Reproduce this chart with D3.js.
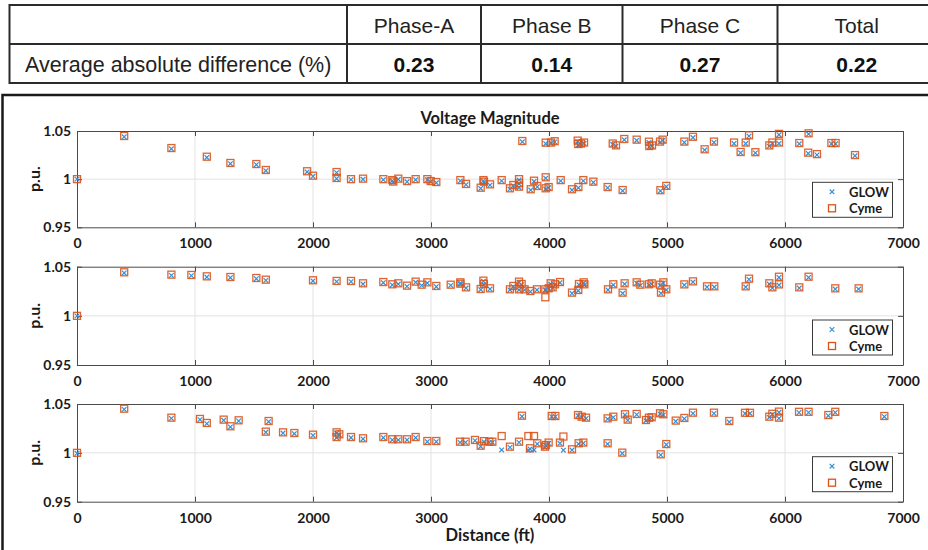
<!DOCTYPE html>
<html><head><meta charset="utf-8">
<script src="https://cdn.jsdelivr.net/npm/d3@7/dist/d3.min.js"></script>
<style>body{margin:0;background:#fff;}svg{display:block;}</style>
</head><body><svg id="c" width="928" height="550"></svg>
<script>
// ---- table data ----
const tableHeaders = ["", "Phase-A", "Phase B", "Phase C", "Total"];
const tableRowLabel = "Average absolute difference (%)";
const tableValues = ["0.23", "0.14", "0.27", "0.22"];

// ---- chart data ----
const chartTitle = "Voltage Magnitude";
const xTicks = [0, 1000, 2000, 3000, 4000, 5000, 6000, 7000];
const yTicks = [0.95, 1, 1.05];
const seriesNames = ["GLOW", "Cyme"];

const distA = [0,400,800,1100,1300,1520,1600,1950,2000,2200,2200,2322,2424,2596,2672,2680,2723,2797,2870,2969,2997,3045,3249,3297,3421,3444,3449,3500,3599,3669,3698,3746,3746,3746,3845,3873,3901,3972,3972,3997,4099,4195,4249,4291,4376,4497,4624,4944,4994,
  3774,3972,4017,4048,4243,4248,4271,4297,4540,4568,4638,4743,4847,4850,4873,4941,4963,5147,5220,5319,5398,5568,5624,5667,5695,5749,5867,5893,5949,5949,6121,6200,6197,6271,6393,6429,6593];
const cymeA = [1.000,1.0448,1.0323,1.0233,1.0168,1.0157,1.0095,1.0082,1.0036,1.0074,1.0012,1.000,1.0005,1.000,0.999,0.9975,1.0005,0.998,1.000,1.000,0.998,0.997,0.999,0.995,0.9911,0.999,0.9974,0.9946,0.999,0.9905,0.9939,1.000,0.9957,0.9922,0.9895,0.9984,0.9929,1.0019,0.9905,0.9918,0.999,0.9895,0.9918,0.999,0.9974,0.9918,0.9887,0.9885,0.993,
  1.0396,1.0379,1.038,1.0394,1.040,1.0365,1.037,1.038,1.037,1.0351,1.0417,1.041,1.0389,1.0344,1.035,1.039,1.041,1.039,1.044,1.031,1.039,1.038,1.0282,1.038,1.0455,1.028,1.035,1.038,1.038,1.047,1.0375,1.0476,1.0275,1.026,1.0375,1.0375,1.025];
const glowA = [1.000,1.0440,1.0315,1.0225,1.016,1.015,1.0088,1.0075,1.003,1.0068,1.0005,0.9995,0.9998,0.9993,0.9982,0.997,0.9998,0.9972,0.9993,0.9993,0.9972,0.9962,0.9982,0.9943,0.9903,0.9982,0.9966,0.9938,0.9982,0.9897,0.9931,0.9992,0.995,0.9914,0.9887,0.9976,0.9921,1.001,0.9897,0.991,0.9982,0.9887,0.991,0.9982,0.9966,0.991,0.9879,0.9877,0.9922,
  1.0388,1.0368,1.0372,1.0386,1.0392,1.0355,1.0362,1.0372,1.0362,1.0342,1.0409,1.0402,1.038,1.0335,1.0342,1.0382,1.0402,1.0381,1.0432,1.0302,1.0381,1.037,1.0274,1.037,1.0447,1.0272,1.0342,1.037,1.037,1.0462,1.0367,1.0468,1.0267,1.0252,1.0367,1.0367,1.0242];

const distB = [0,400,800,969,1100,1300,1520,1600,2000,2200,2322,2424,2596,2672,2723,2797,2870,2921,2969,3045,3167,3249,3249,3297,3421,3444,3448,3500,3669,3698,3746,3746,3768,3793,3842,3898,3969,3969,3997,4014,4031,4051,4093,4195,4248,4254,4294,4300,4500,4545,4624,4641,4743,4774,4847,4870,4941,4949,4969,4994,5147,5220,5339,5401,5667,5695,5867,5893,5949,5949,6121,6200,6426,6624];
const cymeB = [1.000,1.0443,1.0419,1.0416,1.0402,1.0395,1.0385,1.0368,1.0362,1.0355,1.0355,1.0331,1.0344,1.0321,1.0331,1.0307,1.0348,1.0317,1.0341,1.0304,1.0317,1.0327,1.0341,1.029,1.0273,1.0358,1.0324,1.028,1.027,1.0304,1.0348,1.027,1.0324,1.027,1.0253,1.027,1.0189,1.027,1.028,1.0331,1.029,1.0321,1.0344,1.0236,1.0263,1.0324,1.0341,1.0321,1.027,1.0321,1.0236,1.0331,1.0341,1.0317,1.0321,1.0331,1.0317,1.0236,1.0341,1.027,1.032,1.0351,1.030,1.030,1.030,1.0378,1.0331,1.029,1.032,1.0398,1.029,1.0398,1.028,1.028];
const glowB = [1.000,1.0436,1.0412,1.0409,1.0395,1.0388,1.0378,1.0361,1.0355,1.0348,1.0348,1.0324,1.0337,1.0314,1.0324,1.030,1.0341,1.031,1.0334,1.0297,1.031,1.032,1.0334,1.0283,1.0266,1.0351,1.0317,1.0273,1.0263,1.0297,1.0341,1.0263,1.0317,1.0263,1.0246,1.0263,1.0262,1.0263,1.0273,1.0324,1.0283,1.0314,1.0337,1.0229,1.0256,1.0317,1.0334,1.0314,1.0263,1.0314,1.0229,1.0324,1.0334,1.031,1.0314,1.0324,1.031,1.0229,1.0334,1.0263,1.0313,1.0344,1.0293,1.0293,1.0293,1.0371,1.0324,1.0283,1.0313,1.0391,1.0283,1.0391,1.0273,1.0273];

const distC = [0,400,800,1042,1100,1243,1300,1370,1600,1624,1746,1842,2000,2200,2200,2223,2322,2424,2596,2672,2723,2797,2870,2969,3045,3246,3293,3373,3421,3449,3494,3520,3599,3669,3746,3771,3825,3839,3873,3901,3966,3972,3997,4023,4054,4093,4122,4195,4246,4251,4277,4291,4314,4497,4497,4545,4621,4644,4667,4743,4822,4847,4870,4941,4947,4969,4994,5074,5147,5220,5398,5528,5661,5703,5867,5893,5949,5949,6119,6200,6367,6426,6842];
const cymeC = [1.000,1.0452,1.036,1.0347,1.0306,1.034,1.0272,1.0333,1.0217,1.0326,1.021,1.0203,1.0186,1.021,1.0162,1.019,1.0162,1.0149,1.0162,1.0139,1.0139,1.0139,1.0162,1.0121,1.0121,1.0114,1.0114,1.0132,1.0073,1.012,1.0114,1.0114,1.0172,1.0063,1.0114,1.038,1.0172,1.0047,1.0172,1.0098,1.0063,1.008,1.0105,1.0377,1.0377,1.0105,1.0167,1.0036,1.0387,1.0098,1.037,1.0105,1.036,1.0353,1.0098,1.037,1.0002,1.0395,1.034,1.0398,1.0336,1.036,1.0364,1.0405,0.9985,1.0395,1.009,1.033,1.0357,1.0411,1.0411,1.0326,1.041,1.041,1.037,1.040,1.0422,1.036,1.042,1.042,1.0387,1.042,1.0377];
const glowC = [0.9995,1.0445,1.0353,1.034,1.0299,1.0333,1.0265,1.0326,1.021,1.0319,1.0203,1.0196,1.0179,1.0203,1.0155,1.0183,1.0155,1.0142,1.0155,1.0132,1.0132,1.0132,1.0155,1.0114,1.0114,1.0107,1.0107,1.0125,1.0066,1.0113,1.0107,1.0107,1.003,1.0056,1.0107,1.0373,1.0027,1.004,1.003,1.0091,1.0056,1.0073,1.0098,1.037,1.037,1.0098,1.0027,1.0029,1.038,1.0091,1.0363,1.0098,1.0353,1.0346,1.0091,1.0363,0.9995,1.0388,1.0333,1.0391,1.0329,1.0353,1.0357,1.0398,0.9978,1.0388,1.0083,1.0323,1.035,1.0404,1.0404,1.0315,1.0403,1.0403,1.0363,1.0393,1.0415,1.0353,1.0413,1.0413,1.038,1.0413,1.037];

const panels = [
  {dist: distA, glow: glowA, cyme: cymeA},
  {dist: distB, glow: glowB, cyme: cymeB},
  {dist: distC, glow: glowC, cyme: cymeC}
];

// ---- drawing ----
const svg = d3.select("#c");
svg.append("rect").attr("width",928).attr("height",550).attr("fill","#fff");

// table
const colX = [9.5, 347, 481, 622.5, 777.5, 936];
const rowY = [5, 44, 83];
const tbl = svg.append("g");
tbl.append("rect").attr("x",colX[0]).attr("y",rowY[0]).attr("width",colX[5]-colX[0]).attr("height",rowY[2]-rowY[0])
  .attr("fill","none").attr("stroke","#2b2b2b").attr("stroke-width",2);
tbl.append("line").attr("x1",colX[0]).attr("x2",colX[5]).attr("y1",rowY[1]).attr("y2",rowY[1]).attr("stroke","#2b2b2b").attr("stroke-width",2);
colX.slice(1,5).forEach(x => tbl.append("line").attr("x1",x).attr("x2",x).attr("y1",rowY[0]).attr("y2",rowY[2]).attr("stroke","#2b2b2b").attr("stroke-width",2));
tableHeaders.forEach((h,i) => {
  if (!h) return;
  tbl.append("text").attr("x",(colX[i]+colX[i+1])/2).attr("y",(rowY[0]+rowY[1])/2+1)
    .attr("text-anchor","middle").attr("dominant-baseline","central")
    .style("font-family","'Liberation Sans', Arial, sans-serif").style("font-size","21px").attr("fill","#222").text(h);
});
tbl.append("text").attr("x",25).attr("y",(rowY[1]+rowY[2])/2+1).attr("dominant-baseline","central")
  .style("font-family","'Liberation Sans', Arial, sans-serif").style("font-size","21.5px").attr("fill","#222").text(tableRowLabel);
tableValues.forEach((v,i) => {
  tbl.append("text").attr("x",(colX[i+1]+colX[i+2])/2).attr("y",(rowY[1]+rowY[2])/2+1)
    .attr("text-anchor","middle").attr("dominant-baseline","central")
    .style("font-family","'Liberation Sans', Arial, sans-serif").style("font-size","21px").style("font-weight","bold").attr("fill","#111").text(v);
});

// figure frame
svg.append("rect").attr("x",2.5).attr("y",95).attr("width",960).attr("height",480)
  .attr("fill","none").attr("stroke","#1a1a1a").attr("stroke-width",2.5);

const font = "Lato, 'Open Sans', sans-serif";
const x = d3.scaleLinear().domain([0,7000]).range([77,903]);
const tops = [131, 266.7, 404];
const bottoms = [227.3, 365, 501.7];
const boxColor = "#4a4a4a";
const blue = "#3690d6", orange = "#d95319";

panels.forEach((p, i) => {
  const y = d3.scaleLinear().domain([0.95,1.05]).range([bottoms[i], tops[i]]);
  const g = svg.append("g");
  // grid
  g.selectAll(".gx").data(xTicks.slice(1,-1)).join("line")
    .attr("x1",d=>x(d)).attr("x2",d=>x(d)).attr("y1",tops[i]).attr("y2",bottoms[i])
    .attr("stroke","#e3e3e3").attr("stroke-width",1);
  g.append("line").attr("x1",77).attr("x2",903).attr("y1",y(1)).attr("y2",y(1)).attr("stroke","#e3e3e3");

  // axes
  const style = sel => {
    sel.select(".domain").attr("stroke",boxColor);
    sel.selectAll(".tick line").attr("stroke",boxColor);
    sel.selectAll("text").style("font-family",font).style("font-weight","bold").style("font-size","14px").attr("fill","#1a1a1a");
  };
  g.append("g").attr("transform",`translate(0,${bottoms[i]})`)
    .call(d3.axisBottom(x).tickValues(xTicks).tickFormat(d3.format("d")).tickSizeInner(-5).tickSizeOuter(0).tickPadding(11)).call(style);
  g.append("g").attr("transform",`translate(0,${tops[i]})`)
    .call(d3.axisTop(x).tickValues(xTicks).tickFormat("").tickSizeInner(-5).tickSizeOuter(0)).call(style);
  g.append("g").attr("transform",`translate(77,0)`)
    .call(d3.axisLeft(y).tickValues(yTicks).tickFormat(d => d===1 ? "1" : d3.format(".2f")(d)).tickSizeInner(-5).tickSizeOuter(0).tickPadding(6)).call(style);
  g.append("g").attr("transform",`translate(903,0)`)
    .call(d3.axisRight(y).tickValues(yTicks).tickFormat("").tickSizeInner(-5).tickSizeOuter(0)).call(style);

  // y label
  g.append("text").attr("transform",`translate(33,${(tops[i]+bottoms[i])/2}) rotate(-90)`)
    .attr("text-anchor","middle").attr("dominant-baseline","central")
    .style("font-family",font).style("font-weight","bold").style("font-size","16px").attr("fill","#1a1a1a").text("p.u.");

  // GLOW x markers
  const s = 2.3;
  g.selectAll(".glow").data(p.dist.map((d,k)=>[d,p.glow[k]])).join("path")
    .attr("d",d=>{const cx=x(d[0]), cy=y(d[1]); return `M${cx-s},${cy-s}L${cx+s},${cy+s}M${cx-s},${cy+s}L${cx+s},${cy-s}`;})
    .attr("stroke",blue).attr("stroke-width",1.2).attr("fill","none");
  // Cyme squares
  g.selectAll(".cyme").data(p.dist.map((d,k)=>[d,p.cyme[k]])).join("rect")
    .attr("x",d=>x(d[0])-3.5).attr("y",d=>y(d[1])-3.5).attr("width",7).attr("height",7)
    .attr("fill","none").attr("stroke",orange).attr("stroke-width",1.3).attr("stroke-opacity",0.9);

  // legend
  const lt = bottoms[i] - 45;
  const lg = g.append("g");
  lg.append("rect").attr("x",812.5).attr("y",lt).attr("width",80).attr("height",35)
    .attr("fill","#fff").attr("stroke","#3a3a3a").attr("stroke-width",1);
  const r1 = lt+9.5, r2 = lt+26;
  lg.append("path").attr("d",`M${832-s},${r1-s}L${832+s},${r1+s}M${832-s},${r1+s}L${832+s},${r1-s}`)
    .attr("stroke",blue).attr("stroke-width",1.2);
  lg.append("rect").attr("x",832-3.5).attr("y",r2-3.5).attr("width",7).attr("height",7)
    .attr("fill","none").attr("stroke",orange).attr("stroke-width",1.3);
  [seriesNames[0], seriesNames[1]].forEach((n,k) => {
    lg.append("text").attr("x",849).attr("y",k===0?r1:r2).attr("dominant-baseline","central")
      .style("font-family",font).style("font-weight","bold").style("font-size","13px").attr("fill","#1a1a1a").text(n);
  });
});

// title and x label
svg.append("text").attr("x",490).attr("y",118).attr("text-anchor","middle").attr("dominant-baseline","central")
  .style("font-family",font).style("font-weight","bold").style("font-size","16.5px").attr("fill","#1a1a1a").text(chartTitle);
svg.append("text").attr("x",490).attr("y",535).attr("text-anchor","middle").attr("dominant-baseline","central")
  .style("font-family",font).style("font-weight","bold").style("font-size","16.5px").attr("fill","#1a1a1a").text("Distance (ft)");
</script></body></html>
